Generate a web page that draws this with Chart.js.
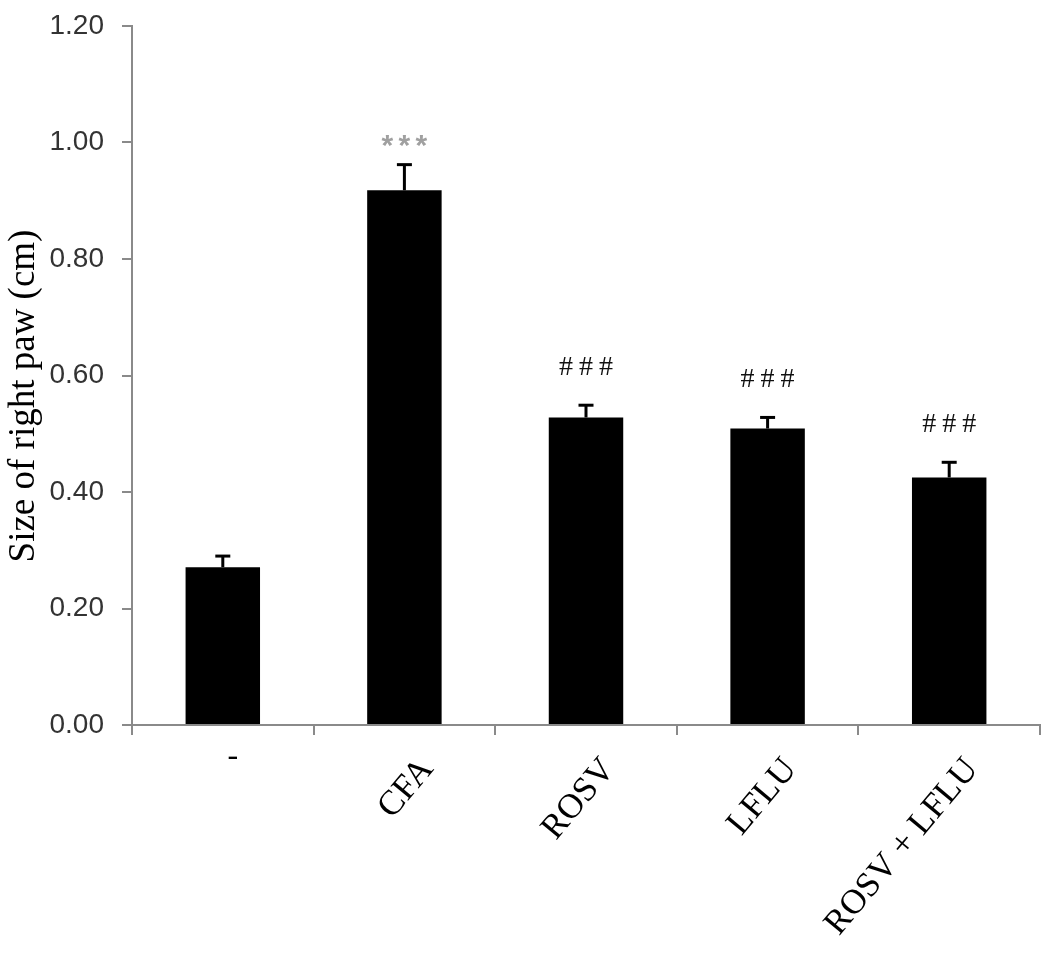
<!DOCTYPE html>
<html><head><meta charset="utf-8">
<script src="https://cdn.jsdelivr.net/npm/chart.js@4/dist/chart.umd.min.js"></script>
<style>html,body{margin:0;padding:0;background:#fff;} #wrap{width:1050px;height:959px;}</style>
</head><body><div id="wrap"><canvas id="c" width="1050" height="959"></canvas></div>
<script>
const categories = ['-', 'CFA', 'ROSV', 'LFLU', 'ROSV + LFLU'];
const values = [0.271, 0.918, 0.528, 0.509, 0.425];
const errors = [0.019, 0.044, 0.021, 0.019, 0.026];
const marks = ['', '***', '###', '###', '###'];
const yTicks = [0, 0.2, 0.4, 0.6, 0.8, 1.0, 1.2];
const yTitle = 'Size of right paw (cm)';

const extras = {
  id: 'extras',
  afterDatasetsDraw(chart) {
    const ctx = chart.ctx;
    const ys = chart.scales.y;
    const meta = chart.getDatasetMeta(0);
    ctx.save();
    values.forEach((v, i) => {
      const x = meta.data[i].x;
      const yBar = ys.getPixelForValue(v);
      const yTop = ys.getPixelForValue(v + errors[i]);
      ctx.strokeStyle = '#000';
      ctx.lineWidth = 3;
      ctx.beginPath();
      ctx.moveTo(x, yBar);
      ctx.lineTo(x, yTop);
      ctx.stroke();
      ctx.beginPath();
      ctx.moveTo(x - 7.5, yTop);
      ctx.lineTo(x + 7.5, yTop);
      ctx.stroke();
      const m = marks[i];
      if (m) {
        ctx.textAlign = 'center';
        ctx.textBaseline = 'alphabetic';
        if (m[0] === '*') {
          ctx.fillStyle = '#a0a0a0';
          ctx.font = 'bold 30px "Liberation Sans"';
          [...m].forEach((ch, k) => ctx.fillText(ch, x + (k - 1) * 17, yTop - 10));
        } else {
          ctx.fillStyle = '#111';
          ctx.font = '28px "Liberation Serif"';
          [...m].forEach((ch, k) => ctx.fillText(ch, x + (k - 1) * 20, yTop - 30));
        }
      }
    });
    // first category label (horizontal)
    const xs = chart.scales.x;
    ctx.fillStyle = '#000';
    ctx.font = '32px "Liberation Serif"';
    ctx.textAlign = 'center';
    ctx.textBaseline = 'middle';
    ctx.fillText(categories[0], xs.getPixelForValue(0) + 10, 757);
    // y axis title
    ctx.translate(34, 396);
    ctx.rotate(-Math.PI / 2);
    ctx.textAlign = 'center';
    ctx.textBaseline = 'alphabetic';
    ctx.font = '37px "Liberation Serif"';
    ctx.fillStyle = '#000';
    ctx.fillText(yTitle, 0, 0);
    ctx.restore();
  }
};

new Chart(document.getElementById('c'), {
  type: 'bar',
  data: {
    labels: categories,
    datasets: [{
      data: values,
      backgroundColor: '#000',
      borderWidth: 0,
      barPercentage: 0.41,
      categoryPercentage: 1.0
    }]
  },
  options: {
    responsive: false,
    animation: false,
    devicePixelRatio: 1,
    layout: { padding: { top: 26, right: 10, left: 0, bottom: 0 } },
    plugins: { legend: { display: false }, tooltip: { enabled: false } },
    scales: {
      x: {
        afterFit(s) { s.height = 959 - 725; s.paddingLeft = 0; s.paddingRight = 0; },
        border: { display: true, color: '#8a8a8a', width: 2 },
        grid: { display: true, drawOnChartArea: false, drawTicks: true, tickLength: 10, color: '#8a8a8a', lineWidth: 2, offset: true },
        ticks: {
          autoSkip: false,
          maxRotation: 50, minRotation: 50,
          labelOffset: 23,
          padding: 15,
          color: '#000',
          font: { family: 'Liberation Serif', size: 35 },
          callback: (v, i) => i === 0 ? '' : categories[i]
        }
      },
      y: {
        min: 0, max: 1.2,
        afterFit(s) { s.width = 132; s.paddingTop = 0; s.paddingBottom = 0; },
        afterBuildTicks(s) { s.ticks = yTicks.map(v => ({ value: v })); },
        border: { display: true, color: '#8a8a8a', width: 2 },
        grid: { display: true, drawOnChartArea: false, drawTicks: true, tickLength: 10, color: '#8a8a8a', lineWidth: 2 },
        ticks: {
          padding: 18,
          color: '#333',
          font: { family: 'Liberation Sans', size: 28 },
          callback: v => Number(v).toFixed(2)
        }
      }
    }
  },
  plugins: [extras]
});
</script>
</body></html>
